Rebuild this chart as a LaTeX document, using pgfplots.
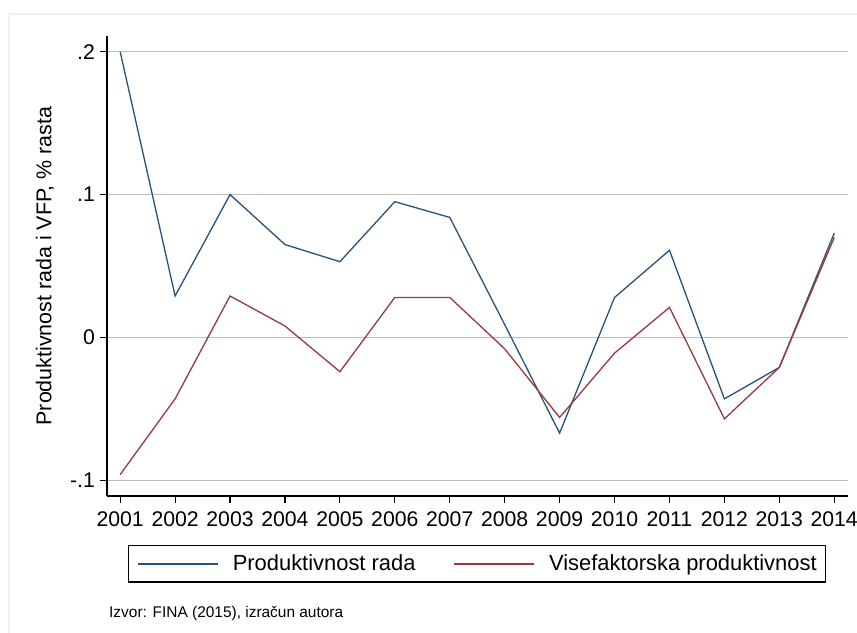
\documentclass[border=0pt]{standalone}
\usepackage{fontspec}
\setmainfont{Liberation Sans}
\usepackage{pgfplots}
\pgfplotsset{compat=1.18}

\definecolor{statanavy}{RGB}{40,82,122}
\definecolor{statamaroon}{RGB}{150,58,64}
\definecolor{gridgray}{RGB}{190,190,190}

\begin{document}
\begin{tikzpicture}
\useasboundingbox (0,0) rectangle (857bp,633bp);
% faint graph region border
\draw[black!6, line width=1.5bp] (9bp,0bp) -- (9bp,619bp) -- (857bp,619bp);

\begin{axis}[
    at={(107bp,137bp)}, anchor=south west,
    scale only axis, width=741bp, height=460bp,
    xmin=2000.76, xmax=2014.25, ymin=-0.111, ymax=0.211,
    axis x line*=bottom, axis y line*=left,
    axis line style={black, line width=1.3bp},
    xtick={2001,...,2014}, minor x tick num=1,
    ytick={-0.1,0,0.1,0.2}, yticklabels={-.1,0,.1,.2},
    tick align=outside, major tick length=7bp, minor tick length=4bp,
    tick style={black, line width=1.2bp},
    xticklabel style={/pgf/number format/1000 sep={}, inner sep=0pt, yshift=-8bp},
    yticklabel style={inner sep=0pt, xshift=-5bp},
    /pgf/number format/assume math mode=true,
    ticklabel style={font=\fontsize{21.3}{24}\selectfont},
    ymajorgrids, grid style={gridgray, line width=1.3bp},
    ylabel={Produktivnost rada i VFP, \% rasta},
    ylabel style={at={(axis description cs:-0.0837,0.5)}, anchor=center, font=\fontsize{21.5}{24}\selectfont},
    legend columns=2,
    legend style={at={(axis description cs:0.4993,-0.1065)}, anchor=north,
        draw=black, line width=1.2bp, inner xsep=9bp, inner ysep=9.5bp,
        font=\fontsize{22}{24}\selectfont,
        nodes={inner sep=0pt},
        /tikz/every odd column/.append style={column sep=14bp},
        /tikz/every even column/.append style={column sep=38bp}},
    legend image code/.code={\draw[#1] (0bp,0bp) -- (80bp,0bp);},
]
\addplot[statanavy, line width=1.3bp, legend image post style={statanavy, line width=1.5bp}] coordinates {
    (2001,0.200)(2002,0.029)(2003,0.100)(2004,0.065)(2005,0.053)(2006,0.095)(2007,0.084)
    (2008,0.009)(2009,-0.067)(2010,0.028)(2011,0.061)(2012,-0.043)(2013,-0.021)(2014,0.073)
};
\addlegendentry{Produktivnost rada}
\addplot[statamaroon, line width=1.3bp, legend image post style={statamaroon, line width=1.5bp}] coordinates {
    (2001,-0.096)(2002,-0.043)(2003,0.029)(2004,0.008)(2005,-0.024)(2006,0.028)(2007,0.028)
    (2008,-0.008)(2009,-0.056)(2010,-0.011)(2011,0.021)(2012,-0.057)(2013,-0.021)(2014,0.070)
};
\addlegendentry{Visefaktorska produktivnost\hspace{10bp}}
\end{axis}

\node[anchor=base west, inner sep=0pt, font=\fontsize{15.5}{18}\selectfont] at (109bp,16bp) {Izvor: FINA (2015), izračun autora};
\end{tikzpicture}
\end{document}
